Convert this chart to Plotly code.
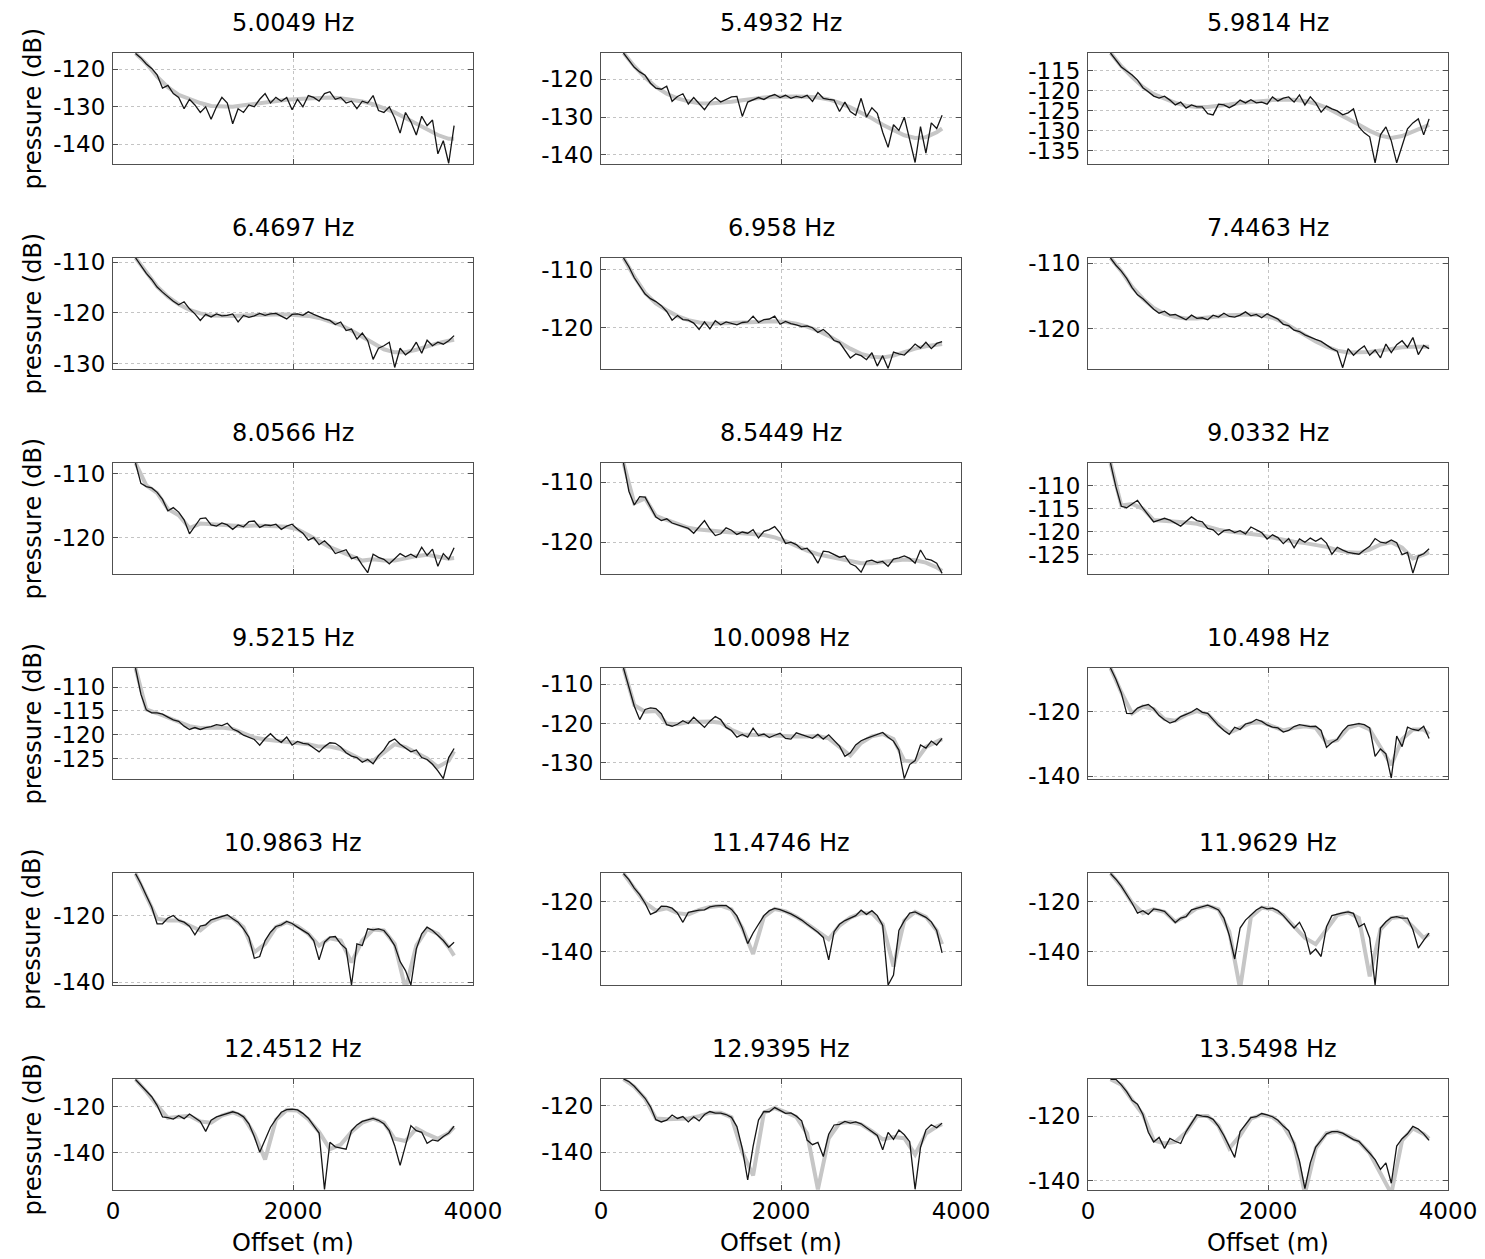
import plotly.graph_objects as go

# ---------------- data ----------------
OFFSET = [250, 310, 370, 430, 490, 550, 610, 670, 730, 790, 850, 910, 970, 1030, 1090,
          1150, 1210, 1270, 1330, 1390, 1450, 1510, 1570, 1630, 1690, 1750, 1810, 1870,
          1930, 1990, 2050, 2110, 2170, 2230, 2290, 2350, 2410, 2470, 2530, 2590, 2650,
          2710, 2770, 2830, 2890, 2950, 3010, 3070, 3130, 3190, 3250, 3310, 3370, 3430,
          3490, 3550, 3610, 3670, 3730, 3790]
MODEL_OFFSET = [250, 370, 490, 610, 730, 850, 970, 1090, 1210, 1330, 1450, 1570, 1690,
                1810, 1930, 2050, 2170, 2290, 2410, 2530, 2650, 2770, 2890, 3010, 3130,
                3250, 3370, 3490, 3610, 3730, 3790]

FREQ_LABELS = ["5.0049 Hz", "5.4932 Hz", "5.9814 Hz", "6.4697 Hz", "6.958 Hz", "7.4463 Hz",
               "8.0566 Hz", "8.5449 Hz", "9.0332 Hz", "9.5215 Hz", "10.0098 Hz", "10.498 Hz",
               "10.9863 Hz", "11.4746 Hz", "11.9629 Hz", "12.4512 Hz", "12.9395 Hz", "13.5498 Hz"]

MEAS_5_0049 = [-115.8,-117,-118.6,-119.8,-121.5,-125,-124.3,-126.5,-127.5,-130.5,
               -128,-129.5,-131.5,-130,-133.3,-130,-127.5,-129,-134.5,-130.5,
               -131.5,-129.5,-130,-128,-126.5,-129,-127.5,-128.5,-127.5,-130.8,
               -128,-130,-127,-127.5,-128.5,-126.5,-126,-128,-127.5,-129,
               -128.5,-130.5,-128.5,-129,-127,-131,-131.5,-130,-133,-137,
               -131.5,-134,-137.5,-132.5,-135,-133.5,-142.5,-139,-145,-135]
MODEL_5_0049 = [-115.8,-118.5,-122,-124.8,-126.8,-128,-129,-129.8,-130,-130,
                -129.6,-129.2,-128.8,-128.4,-128.1,-127.9,-127.7,-127.6,-127.5,-127.7,
                -128.1,-128.6,-129.3,-130.3,-131.5,-133,-134.5,-136,-137.5,-138.5,-138.5]

MEAS_5_4932 = [-113.0,-114.8,-116.8,-118,-118.9,-121,-122.3,-122.6,-121.8,-125.8,
               -124.5,-123.8,-126.5,-124.8,-126.5,-128,-126,-124.8,-126,-125.3,
               -124.6,-124.5,-129.8,-126,-125.5,-124.8,-125.3,-124.5,-124,-124.8,
               -124.2,-125,-124.5,-124.8,-124.2,-125.8,-123.5,-125,-125.3,-125.5,
               -128.5,-126,-128.5,-129.5,-125,-130,-127.5,-129,-134,-138,
               -132,-133.5,-130,-136,-142,-132.5,-139.5,-131.5,-133,-129.5]
MODEL_5_4932 = [-113,-116.5,-119.5,-122,-123.8,-125,-125.8,-126.3,-126.4,-126.2,
                -125.9,-125.5,-125.1,-124.8,-124.6,-124.5,-124.5,-124.6,-124.8,-125.3,
                -126.2,-127.4,-128.8,-130.3,-132,-133.5,-134.8,-135.5,-135.3,-134,-133]

MEAS_5_9814 = [-110.5,-112.3,-114,-115,-116,-117.3,-119.2,-120.2,-121.3,-121.8,
               -121.3,-122.3,-123.5,-122.8,-124.3,-123.5,-124,-124,-125.7,-126,
               -123.3,-123.5,-124.2,-123.5,-122.3,-123,-122.2,-123,-122.8,-123.3,
               -121.5,-122.5,-121.8,-121.5,-122.8,-121,-123.5,-121.5,-123,-125.3,
               -123.8,-124.5,-125,-126,-125.5,-124.5,-129,-130.5,-131.5,-138,
               -131,-129,-132.5,-138,-133.5,-129.5,-128,-127,-131,-127]
MODEL_5_9814 = [-110.5,-113.8,-116.5,-119,-120.8,-122,-123,-123.7,-124,-124,
                -123.8,-123.4,-123,-122.7,-122.5,-122.3,-122.2,-122.2,-122.5,-123.2,
                -124.2,-125.5,-127,-128.5,-130,-131.2,-131.8,-131.3,-130.2,-129,-128.5]

MEAS_6_4697 = [-109.1,-110.6,-112.2,-113.4,-114.9,-115.9,-116.8,-117.7,-118.4,-117.8,
               -119.2,-120.2,-121.5,-120.3,-120.8,-120.2,-120.6,-120.5,-120.2,-121.8,
               -120.5,-120.9,-120.6,-120.1,-120.5,-120.2,-120.1,-120.7,-121.2,-120.3,
               -120.2,-120.5,-119.8,-120.3,-120.8,-121.2,-121.5,-122.3,-121.8,-123.5,
               -123.2,-125.2,-124,-125.5,-129.2,-127,-126.5,-125.8,-130.8,-127,
               -128.3,-127.5,-125.8,-128,-125.4,-126.5,-125.8,-126.2,-125.5,-124.5]
MODEL_6_4697 = [-109.1,-112,-114.8,-116.8,-118.3,-119.4,-120.1,-120.5,-120.6,-120.6,
                -120.5,-120.4,-120.3,-120.3,-120.3,-120.4,-120.6,-121,-121.6,-122.4,
                -123.5,-124.8,-126.1,-127.2,-127.8,-127.8,-127.3,-126.6,-126,-125.5,-125.3]

MEAS_6_958 = [-108,-109.5,-111.4,-112.9,-114.2,-115,-115.5,-116.2,-117.2,-118.7,
              -117.9,-118.6,-118.7,-119.2,-120.3,-119,-120.2,-118.8,-119.5,-119,
              -119.2,-119.5,-119.1,-119,-118,-119.1,-118.6,-118.5,-118,-119.4,
              -118.9,-119.3,-119.5,-119.8,-119.7,-120,-120.8,-120.3,-121.1,-122.2,
              -122.5,-123.9,-125.2,-124.5,-124.8,-125.5,-124.3,-126.6,-124.8,-127,
              -124.2,-124.5,-124.7,-123.8,-122.8,-123.5,-122.5,-123.6,-122.7,-122.4]
MODEL_6_958 = [-108,-111.2,-114,-115.8,-117,-118,-118.7,-119.1,-119.3,-119.3,
               -119.2,-119.1,-119,-118.9,-118.9,-119,-119.3,-119.8,-120.5,-121.4,
               -122.5,-123.6,-124.5,-125,-125.1,-124.8,-124.2,-123.6,-123.2,-122.9,-122.8]

MEAS_7_4463 = [-109.2,-110.3,-111.2,-112.3,-113.7,-114.8,-115.4,-116.2,-117,-117.6,
               -117.3,-117.9,-117.8,-118.2,-118.6,-117.9,-118.4,-118.3,-118.6,-117.9,
               -118.2,-117.6,-118.1,-118.2,-117.9,-117.4,-118,-117.8,-118.3,-117.7,
               -118.1,-118.5,-119.3,-119.5,-120.2,-120.4,-120.9,-121.3,-121.6,-121.9,
               -122.5,-123,-123.4,-125.9,-123,-124,-123.2,-122.6,-124,-123.2,
               -124.4,-122.3,-123.6,-122.4,-121.8,-122.8,-121.3,-123.9,-122.5,-123]
MODEL_7_4463 = [-109.2,-111.2,-113.6,-115.4,-116.8,-117.7,-118.2,-118.4,-118.4,-118.3,
                -118.1,-117.9,-117.8,-117.8,-117.9,-118.3,-119,-120,-121,-121.9,
                -122.7,-123.3,-123.6,-123.6,-123.5,-123.3,-123,-122.8,-122.7,-122.7,-122.7]

MEAS_8_0566 = [-108.3,-111.5,-112,-112.2,-112.9,-114,-115.8,-115.3,-116,-117.2,
               -119.4,-118.2,-117,-116.9,-118,-118.2,-117.7,-118,-118.7,-118,
               -118.3,-117.5,-117.4,-118.4,-118,-118.1,-117.9,-118.7,-118.2,-117.9,
               -118.7,-119.3,-120.4,-120,-121.1,-120.5,-121.3,-122.5,-122.2,-121.9,
               -123.3,-123,-124.3,-125.5,-122.6,-123.1,-123.4,-124.1,-123.3,-122.5,
               -123,-122.6,-123.1,-121.5,-122.8,-121.8,-124.5,-122.5,-123.4,-121.6]
MODEL_8_0566 = [-108.3,-111.8,-113,-115.5,-116.5,-118.5,-117.8,-117.9,-118,-118.2,
                -118.2,-118.1,-118.1,-118.2,-118.3,-118.7,-119.6,-120.6,-121.5,-122.2,
                -122.9,-123.6,-123.4,-123.6,-123.6,-123.2,-122.9,-122.7,-123,-123.3,-123.2]

MEAS_8_5449 = [-106.8,-111.5,-113.8,-112.4,-112.5,-114.2,-115.8,-116.4,-116.1,-116.8,
               -117.1,-117.4,-117.7,-118.5,-117.5,-116.4,-117.8,-118.9,-118.6,-117.6,
               -118,-118.7,-118.3,-118.5,-117.9,-119.3,-118.2,-117.9,-117.4,-118.5,
               -120.2,-120,-120.4,-121.2,-121,-122,-123.5,-121.5,-121.6,-122.1,
               -122.5,-122.3,-123.6,-124,-125,-123.2,-123,-123.4,-123.2,-124,
               -122.8,-122.6,-122.3,-122.7,-123.5,-121.3,-122.8,-123,-123.5,-125.2]
MODEL_8_5449 = [-106.8,-113.5,-112.7,-115.6,-116.3,-117,-117.6,-117.9,-118.1,-118.3,
                -118.4,-118.5,-118.6,-118.8,-119.2,-119.8,-120.6,-121.4,-122,-122.4,
                -122.8,-123.2,-123.5,-123.5,-123.3,-123,-122.9,-123,-123.4,-124.2,-124.8]

MEAS_9_0332 = [-105.1,-110.3,-114.5,-114.8,-114,-113.2,-114.9,-116.5,-117.9,-117.5,
               -117.1,-117.5,-118.2,-118.8,-117.8,-116.8,-117.6,-117.9,-119.3,-119.6,
               -120.7,-119.8,-119.6,-120.2,-119.8,-120.5,-119,-119.6,-120.2,-121.6,
               -120.7,-121.3,-122.6,-121.5,-123.5,-121.6,-122.3,-121.4,-122.1,-121.4,
               -122.5,-124.9,-123.4,-124,-124.5,-124.7,-124.9,-124,-123.2,-121.5,
               -122.3,-122.5,-121.8,-122.4,-125,-124.5,-129,-125.3,-124.8,-123.7]
MODEL_9_0332 = [-105.1,-114.3,-114,-115,-117.5,-117.6,-117.9,-118,-118.3,-119,
                -119.6,-120,-120.2,-120.4,-120.8,-121.3,-121.8,-122.2,-122.5,-122.8,
                -123.3,-124,-124.5,-124.6,-123.9,-122.8,-122.3,-123.5,-125.8,-125,-124.5]

MEAS_9_5215 = [-106,-111.5,-114.8,-115.4,-115.4,-115.7,-116.3,-116.9,-117.2,-118.2,
               -118.9,-118.5,-118.9,-118.5,-118.3,-117.9,-118.1,-117.6,-118.8,-119.3,
               -120.1,-120.6,-121,-122.2,-120.8,-119.8,-120.9,-121.6,-120.5,-122.2,
               -121.4,-121.8,-122,-122.8,-123.6,-122.5,-121.7,-121.8,-122.6,-123.8,
               -124.5,-124.8,-125.8,-125.2,-126.1,-124.4,-123.2,-121.5,-120.9,-122,
               -122.8,-123.6,-123.2,-124.8,-125.2,-126.2,-127.6,-129.2,-124.8,-122.9]
MODEL_9_5215 = [-106,-114.7,-115.5,-116.4,-117.3,-118.2,-118.6,-118.6,-118.5,-118.8,
                -119.7,-120.6,-121,-121.2,-121.4,-121.6,-122,-122.5,-122.5,-123,
                -124.2,-125.3,-125.5,-123.8,-122,-122.6,-123.7,-125,-126.8,-125.5,-123.5]

MEAS_10_0098 = [-105.8,-110.5,-115.6,-119,-116.4,-116,-116.2,-117.5,-120.3,-120.7,
                -120.2,-119.3,-120,-118.4,-119.6,-121,-119.4,-118.2,-119,-121,
                -121.8,-123.5,-122.8,-123.5,-121.2,-123.1,-122.7,-123.6,-123,-122.5,
                -123.8,-124,-122.4,-122.9,-123.4,-123.8,-122.8,-124,-122.9,-124.4,
                -125.8,-128.4,-127.5,-125.5,-124.4,-123.8,-123.3,-122.6,-122.3,-123.5,
                -124.5,-126.8,-134.1,-130.5,-129.5,-125.5,-126.3,-124.5,-125.5,-123.8]
MODEL_10_0098 = [-105.8,-115.3,-117,-116.8,-120,-120.2,-119.6,-119.5,-119.5,-119.8,
                 -121.6,-122.8,-122.8,-123,-123.1,-123.3,-123.3,-123.3,-123.2,-123.8,
                 -126,-128.2,-125,-123.3,-122.7,-124,-129.5,-129.8,-126,-124.5,-124]

MEAS_10_498 = [-106.5,-110,-114.2,-120.5,-120.6,-118.9,-118.2,-117.8,-119.1,-121.2,
               -122.5,-123.5,-122.9,-121.5,-120.8,-120.1,-119,-120.2,-120.5,-122.4,
               -124.3,-125.8,-127,-124.8,-125.5,-123.8,-123.4,-122.4,-123,-124.1,
               -124.8,-125,-126.3,-125.8,-124.6,-124,-124.2,-124.6,-124.5,-125.8,
               -131,-129.5,-128.5,-126,-124.3,-124,-123.7,-124,-125,-133.8,
               -131.5,-133,-140.5,-127.5,-130.8,-124.8,-125.5,-125.8,-124.5,-128.3]
MODEL_10_498 = [-106.5,-114,-120.5,-118.4,-119.2,-122.3,-122.8,-121,-119.8,-120.8,
                -124,-126.5,-125,-123.5,-123.3,-124.5,-125.8,-125,-124.5,-125,
                -129.5,-128.8,-125,-124,-125.5,-131,-136.5,-128.5,-125.5,-125.5,-127]

MEAS_10_9863 = [-107.5,-110.5,-114,-117.5,-122.5,-122.5,-120.8,-120,-121.5,-122,
                -123.2,-125.8,-123.2,-122.8,-121.3,-120.8,-120.3,-119.8,-121,-122,
                -124,-126.5,-132.8,-132.3,-127.5,-125,-123.3,-122.8,-121.8,-122.4,
                -123.5,-124.5,-125.5,-127.5,-133.3,-128,-126.5,-126.3,-128.5,-130,
                -140.8,-128.5,-129,-124,-124.3,-124,-124.5,-126.5,-129,-133.8,
                -136.5,-140.8,-130,-125.5,-123.5,-124.5,-126,-127.5,-129.5,-128]
MODEL_10_9863 = [-107.5,-114,-121,-121.5,-121.5,-123,-124.5,-121.8,-120.5,-120.8,
                 -123.5,-131,-128.5,-123.5,-122,-123.2,-125.5,-129,-126.8,-127.5,
                 -134,-127.5,-124.2,-124.5,-128.5,-142,-129,-124,-125.5,-129.5,-132]

MEAS_11_4746 = [-108.5,-111,-114.4,-117,-120.5,-125,-124,-121.7,-121.8,-122.5,
                -124.5,-128.2,-124.2,-123.6,-123.3,-123.2,-122,-121.6,-121.5,-121.4,
                -123,-125.6,-130.5,-136.8,-132.5,-128.8,-125.5,-123.5,-122.6,-123.1,
                -123.8,-124.8,-126,-127.3,-129,-130.5,-132.2,-134.3,-143.4,-132,
                -129,-127.5,-126.5,-125.5,-123.3,-125,-123.5,-125.5,-129.5,-153.5,
                -149.5,-131.5,-127.5,-124.5,-124,-125,-126.2,-128,-131.5,-140.5]
MODEL_11_4746 = [-108.5,-114.3,-120.3,-123.5,-122.5,-124.5,-125,-123.2,-122,-121.5,
                 -123,-130.5,-141,-126,-122.8,-123.8,-126,-128.8,-132,-135,
                 -129.5,-126.3,-124.5,-124.5,-129,-146,-127.5,-124,-126,-131.5,-137]

MEAS_11_9629 = [-108.5,-110.8,-113.6,-116.8,-120.5,-124.5,-123.5,-125,-122.8,-123.2,
                -123.8,-126,-128.3,-126.5,-125.9,-123.2,-122.5,-121.8,-121.3,-122.2,
                -123.2,-126.5,-133.5,-143,-130.5,-127.3,-125.3,-123.2,-122,-122.8,
                -122.5,-123.5,-125.5,-128,-130.5,-128.2,-132.5,-141,-139,-142,
                -130,-125.5,-124.8,-124.4,-124,-124.6,-130,-128.8,-134.5,-153.5,
                -130.5,-128,-126.3,-125.9,-126.5,-126.5,-131.2,-138.6,-135.5,-132.6]
MODEL_11_9629 = [-108.5,-113.6,-120.3,-124.5,-123,-124,-128,-125.5,-122.5,-121.5,
                 -123,-132,-155,-126,-122.3,-122.8,-125.3,-130,-134.5,-137,
                 -131,-125.3,-124.2,-126.5,-150,-131,-126.5,-126,-130,-134.5,-133]

MEAS_12_4512 = [-108.3,-110.8,-113.5,-115.8,-119.5,-124.5,-124.8,-125.5,-124,-125.3,
                -123.3,-125,-126.5,-130.8,-126,-124.5,-123.8,-123.2,-122.3,-123,
                -124.5,-127.5,-133,-139.8,-134.5,-129,-125.5,-122.5,-121.4,-121.2,
                -121.5,-123,-125.1,-128.5,-131.5,-156,-135.5,-137.5,-138,-138.5,
                -130.5,-128,-126.5,-126,-125.2,-126,-127.5,-130.5,-137,-145.5,
                -136.5,-128.3,-130.5,-131.2,-136,-134.5,-135,-133,-131.5,-128.5]
MODEL_12_4512 = [-108.3,-113.5,-119.5,-125,-124.5,-124,-126.5,-127,-124,-122.5,
                 -124.5,-132,-143,-125.8,-121.5,-121.8,-125.5,-131,-138.5,-136.5,
                 -131,-127,-125.3,-127,-134,-135,-129.5,-132,-134,-131.5,-129]

MEAS_12_9395 = [-108.5,-109.6,-111.6,-114.3,-116.8,-120.5,-126,-127,-126.2,-124,
                -125.5,-124.7,-127,-124.8,-126.5,-123.8,-122.5,-123.2,-123.2,-123.8,
                -125,-129,-138.5,-152,-137.5,-126.2,-122.5,-122.6,-120.8,-122,
                -123.3,-123.1,-124.5,-126.5,-134.8,-136.8,-135.8,-141.9,-132.3,-128.3,
                -128,-126.8,-127.5,-127,-127.8,-129.5,-131,-132.8,-139,-131.5,
                -134.5,-130.5,-132.5,-135.5,-156,-138,-130.5,-128.2,-129.5,-127.5]
MODEL_12_9395 = [-108.5,-111.8,-117,-125.5,-125.8,-125.5,-125.5,-124.5,-123,-123,
                 -125,-140,-150,-123,-121,-122.8,-124.8,-132,-156,-134,
                 -127.5,-127,-128,-131,-134.5,-133.5,-134,-141,-132,-129,-128]

MEAS_13_5498 = [-108.6,-108.6,-110.3,-112.4,-115.1,-116.3,-119.5,-125,-128,-126.6,
                -130,-126.9,-127.8,-128.5,-124.8,-122.2,-119.6,-120,-120.2,-121,
                -123.2,-126,-129.5,-132.8,-124.8,-122.6,-120.5,-120.2,-119.2,-119.6,
                -120.2,-121.3,-123.1,-124.5,-128.5,-134,-142.5,-134.5,-129.6,-127.5,
                -125.5,-124.8,-124.8,-125.3,-126.3,-127.3,-127.8,-129.5,-131.5,-133.5,
                -136.5,-134.5,-140.8,-129.3,-127,-125.5,-123.2,-124,-125.5,-127.5]
MODEL_13_5498 = [-108.6,-110.3,-115,-119.5,-127.5,-128.5,-128,-125,-120,-120,
                 -123,-130,-126,-120.8,-119.5,-120.3,-123,-128.5,-144,-130,
                 -125.3,-124.8,-126.2,-128,-131.5,-138,-144,-127.5,-123.8,-125.5,-127]

MEASURED = [MEAS_5_0049, MEAS_5_4932, MEAS_5_9814, MEAS_6_4697, MEAS_6_958, MEAS_7_4463,
            MEAS_8_0566, MEAS_8_5449, MEAS_9_0332, MEAS_9_5215, MEAS_10_0098, MEAS_10_498,
            MEAS_10_9863, MEAS_11_4746, MEAS_11_9629, MEAS_12_4512, MEAS_12_9395, MEAS_13_5498]
MODELLED = [MODEL_5_0049, MODEL_5_4932, MODEL_5_9814, MODEL_6_4697, MODEL_6_958, MODEL_7_4463,
            MODEL_8_0566, MODEL_8_5449, MODEL_9_0332, MODEL_9_5215, MODEL_10_0098, MODEL_10_498,
            MODEL_10_9863, MODEL_11_4746, MODEL_11_9629, MODEL_12_4512, MODEL_12_9395, MODEL_13_5498]

# axis limits / ticks per panel
Y_LIMITS = [(-145.2, -115.7), (-142.4, -113.0), (-138.3, -110.5),
            (-131.1, -109.15), (-127.1, -108.0), (-126.1, -109.2),
            (-125.7, -108.3), (-125.3, -106.8), (-129.2, -105.1),
            (-129.3, -106.0), (-134.2, -105.8), (-140.8, -106.5),
            (-140.8, -107.3), (-153.5, -108.3), (-153.5, -108.3),
            (-156.2, -108.1), (-156.3, -108.5), (-142.9, -108.5)]
Y_TICKS = [[-140, -130, -120], [-140, -130, -120], [-135, -130, -125, -120, -115],
           [-130, -120, -110], [-120, -110], [-120, -110],
           [-120, -110], [-120, -110], [-125, -120, -115, -110],
           [-125, -120, -115, -110], [-130, -120, -110], [-140, -120],
           [-140, -120], [-140, -120], [-140, -120],
           [-140, -120], [-140, -120], [-140, -120]]
X_TICKS = [0, 2000, 4000]

# ---------------- layout ----------------
W, H = 1485, 1259
COLS = [(113, 473), (601, 961), (1088, 1448)]
ROWS = [(53, 164), (258, 369), (463, 574), (668, 779), (873, 985), (1079, 1190)]
FONT = "DejaVu Sans"


def px(x):
    return x / W


def py(y):
    return 1 - y / H


fig = go.Figure()
layout = dict(width=W, height=H, autosize=False, margin=dict(l=0, r=0, t=0, b=0, pad=0),
              paper_bgcolor="white", plot_bgcolor="white", showlegend=False,
              font=dict(family=FONT, color="black", size=23))
annotations = []

for n in range(18):
    r, c = divmod(n, 3)
    sfx = "" if n == 0 else str(n + 1)
    x0, x1 = COLS[c]
    y0, y1 = ROWS[r]
    fig.add_trace(go.Scatter(x=MODEL_OFFSET, y=MODELLED[n], mode="lines",
                             line=dict(color="#c6c6c6", width=4),
                             xaxis="x" + sfx, yaxis="y" + sfx, hoverinfo="skip"))
    fig.add_trace(go.Scatter(x=OFFSET, y=MEASURED[n], mode="lines",
                             line=dict(color="#151515", width=1.3),
                             xaxis="x" + sfx, yaxis="y" + sfx))
    common = dict(showgrid=True, gridcolor="#c4c4c4", griddash="dot", gridwidth=1,
                  showline=True, linecolor="#505050", linewidth=1, mirror="ticks",
                  ticks="inside", ticklen=5, tickcolor="#505050", zeroline=False,
                  automargin=False,
                  tickfont=dict(family=FONT, size=23, color="black"))
    layout["xaxis" + sfx] = dict(common, domain=[px(x0), px(x1)], range=[0, 4000],
                                 anchor="y" + sfx, tickvals=X_TICKS,
                                 ticktext=[str(v) for v in X_TICKS],
                                 showticklabels=(r == 5), ticklabelstandoff=0)
    layout["yaxis" + sfx] = dict(common, domain=[py(y1), py(y0)],
                                 range=[Y_LIMITS[n][0], Y_LIMITS[n][1]],
                                 anchor="x" + sfx, tickvals=Y_TICKS[n],
                                 ticktext=[str(v) for v in Y_TICKS[n]],
                                 ticklabelstandoff=2)
    annotations.append(dict(text=FREQ_LABELS[n], xref="paper", yref="paper",
                            x=px((x0 + x1) / 2), y=py(y0 - 30),
                            xanchor="center", yanchor="middle", showarrow=False,
                            font=dict(family=FONT, size=24, color="black")))
    if c == 0:
        annotations.append(dict(text="pressure (dB)", xref="paper", yref="paper",
                                x=px(32), y=py((y0 + y1) / 2), textangle=-90,
                                xanchor="center", yanchor="middle", showarrow=False,
                                font=dict(family=FONT, size=24, color="black")))
    if r == 5:
        annotations.append(dict(text="Offset (m)", xref="paper", yref="paper",
                                x=px((x0 + x1) / 2), y=py(1243),
                                xanchor="center", yanchor="middle", showarrow=False,
                                font=dict(family=FONT, size=24, color="black")))

layout["annotations"] = annotations
fig.update_layout(**layout)
fig.write_html("out.html")
